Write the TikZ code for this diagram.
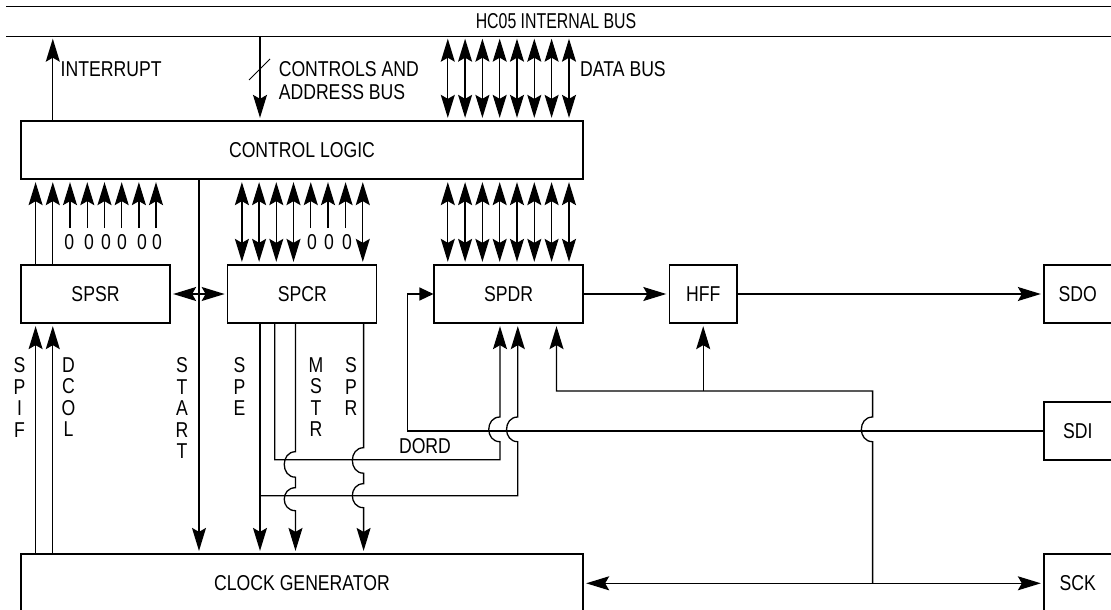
\documentclass[tikz,border=0pt]{standalone}
\usepackage{fontspec}
\usepackage{graphicx}
\setmainfont[FakeStretch=0.82]{Liberation Sans}
\usetikzlibrary{arrows.meta}
\tikzset{
    box/.style={draw,line width=1.3pt,inner sep=0pt,font=\lbl},
    lab/.style={inner sep=0pt,font=\lbl},
    stack/.style={inner sep=0pt,anchor=north,align=center,font=\lbl},
    wire/.style={line width=1.3pt},
    sig/.style={wire,-{Stealth[length=23pt,width=14pt,inset=4pt]},shorten >=2.5pt},
    bisig/.style={wire,{Stealth[length=23pt,width=14pt,inset=4pt]}-{Stealth[length=23pt,width=14pt,inset=4pt]},shorten >=2.5pt,shorten <=2.5pt},
    entry/.style={wire,-{Stealth[length=14pt,width=13pt,inset=0pt]}}
}
\newcommand{\lbl}{\fontsize{21.5}{21.5}\selectfont}
\newcommand{\hop}[3]{-- ([yshift=#2pt]#1) .. controls +(-15,0) and +(-15,0) .. ([yshift=-#3pt]#1)}
\begin{document}
\begin{tikzpicture}[x=1pt,y=-1pt]
    \useasboundingbox (0,0) rectangle (1111,610);
    % blocks
    \node[lab,minimum width=1099pt,minimum height=29pt] (bus) at (556,21.5) {\scalebox{0.9}[1]{HC05 INTERNAL BUS}};
    \node[box,minimum width=562pt,minimum height=58pt] (ctrl) at (302,150) {CONTROL LOGIC};
    \node[box,minimum width=149pt,minimum height=58pt] (spsr) at (95.5,294) {SPSR};
    \node[box,minimum width=149pt,minimum height=58pt] (spcr) at (302.3,294) {SPCR};
    \node[box,minimum width=149pt,minimum height=58pt] (spdr) at (508.6,294) {SPDR};
    \node[box,minimum width=67.5pt,minimum height=58pt] (hff) at (703.2,294) {HFF};
    \node[box,minimum width=67.5pt,minimum height=58pt] (sdo) at (1077.75,294) {SDO};
    \node[box,minimum width=67.5pt,minimum height=58pt] (sdi) at (1077.75,431) {SDI};
    \node[box,minimum width=67.5pt,minimum height=57.5pt] (sck) at (1077.75,582.8) {SCK};
    \node[box,minimum width=562pt,minimum height=57.5pt] (clk) at (302,582.8) {CLOCK GENERATOR};
    % bus lines
    \draw[wire] (bus.north west) -- (bus.north west -| sdo.east);
    \draw[wire] (bus.south west) -- (bus.south west -| sdo.east);
    % labels
    \node[lab,anchor=west] (intlab) at (60.5,69.3) {INTERRUPT};
    \node[lab,anchor=north west,align=left,font=\fontsize{21.5}{22.4}\selectfont] (ctllab) at (278.6,61.5) {CONTROLS AND\\ADDRESS BUS};
    \node[lab,anchor=west] (datlab) at (580,69.3) {DATA BUS};
    \node[lab] (dordlab) at (425,445.7) {DORD};
    \node[stack] (spiflab) at (19.5,357.5) {S\\P\\I\\F};
    \node[stack] (dcollab) at (68.5,357.5) {D\\C\\O\\L};
    \node[stack] (startlab) at (182,357.5) {S\\T\\A\\R\\T};
    \node[stack] (spelab) at (239.6,357.5) {S\\P\\E};
    \node[stack] (mstrlab) at (316,357.5) {M\\S\\T\\R};
    \node[stack] (sprlab) at (351,357.5) {S\\P\\R};
    % named levels and columns
    \coordinate (xspe) at (260,0);
    \coordinate (xdord) at (274.8,0);
    \coordinate (xmstr) at (295.5,0);
    \coordinate (xspr) at (363.6,0);
    \coordinate (xdordin) at (500,0);
    \coordinate (xspein) at (517.8,0);
    \coordinate (xsck) at (556.5,0);
    \coordinate (xspi) at (872.6,0);
    \coordinate (xsdi) at (407.3,0);
    \coordinate (ydord) at (0,459.7);
    \coordinate (yspe) at (0,495.7);
    \coordinate (ysck) at (0,391);
    \coordinate (ysckline) at (0,583.3);
    % top of control logic
    \draw[sig] (52.8,0 |- ctrl.north) -- (52.8,0 |- bus.south);
    \draw[sig] (xspe |- bus.south) -- (xspe |- ctrl.north);
    \coordinate (slasha) at (249,80);
    \coordinate (slashb) at (270,59);
    \draw[line width=1pt] (slasha) -- (slashb);
    \foreach \x in {447.8,465.1,482.4,499.7,517,534.3,551.6,569} {
        \draw[bisig] (\x,0 |- bus.south) -- (\x,0 |- ctrl.north);
        \draw[bisig] (\x,0 |- ctrl.south) -- (\x,0 |- spdr.north);
    }
    % status and control bits
    \draw[sig] (35.6,0 |- spsr.north) -- (35.6,0 |- ctrl.south);
    \draw[sig] (52.8,0 |- spsr.north) -- (52.8,0 |- ctrl.south);
    \foreach \x/\l [count=\i] in {70/69.3,87.3/89,104.5/106,121.7/122,138.9/142,156/157} {
        \node[lab,inner ysep=6pt] (srz\i) at (\l,242) {0};
        \draw[sig] (\x,0 |- srz\i.north) -- (\x,0 |- ctrl.south);
    }
    \foreach \x in {241.9,259.1,276.3,293.5,362.8} {
        \draw[bisig] (\x,0 |- ctrl.south) -- (\x,0 |- spcr.north);
    }
    \foreach \x/\l [count=\i] in {310.8/312,328/329,345.6/347} {
        \node[lab,inner ysep=6pt] (crz\i) at (\l,242) {0};
        \draw[sig] (\x,0 |- crz\i.north) -- (\x,0 |- ctrl.south);
    }
    \draw[bisig] (spsr.east) -- (spcr.west);
    \draw[sig] (199,0 |- ctrl.south) -- (199,0 |- clk.north);
    % clock generator inputs and outputs
    \draw[sig] (35.6,0 |- clk.north) -- (35.6,0 |- spsr.south);
    \draw[sig] (52.8,0 |- clk.north) -- (52.8,0 |- spsr.south);
    \draw[sig] (xspe |- spcr.south) -- (xspe |- clk.north);
    \draw[sig] (xmstr |- spcr.south) \hop{xmstr |- ydord}{8}{17.5} \hop{xmstr |- yspe}{8}{15} -- (xmstr |- clk.north);
    \draw[sig] (xspr |- spcr.south) \hop{xspr |- ydord}{12}{13.5} \hop{xspr |- yspe}{12}{12} -- (xspr |- clk.north);
    % dord and spe into spdr
    \draw[sig] (xdord |- spcr.south) -- (xdord |- ydord) -- (xdordin |- ydord) \hop{xdordin |- sdi.west}{-10.7}{-14} -- (xdordin |- spdr.south);
    \draw[sig] (xspe |- yspe) -- (xspein |- yspe) \hop{xspein |- sdi.west}{-10.7}{-14} -- (xspein |- spdr.south);
    % serial side
    \draw[sig] (spdr.east) -- (hff.west);
    \draw[sig] (hff.east) -- (sdo.west);
    \draw[entry] (sdi.west) -- (xsdi |- sdi.west) -- (xsdi |- spdr.west) -- (spdr.west);
    \draw[sig] (xspi |- ysckline) \hop{xspi |- sdi.west}{-10.7}{-14} -- (xspi |- ysck) -- (xsck |- ysck) -- (xsck |- spdr.south);
    \draw[sig] (hff.center |- ysck) -- (hff.south);
    \draw[bisig] (clk.east |- ysckline) -- (sck.west |- ysckline);
\end{tikzpicture}
\end{document}
